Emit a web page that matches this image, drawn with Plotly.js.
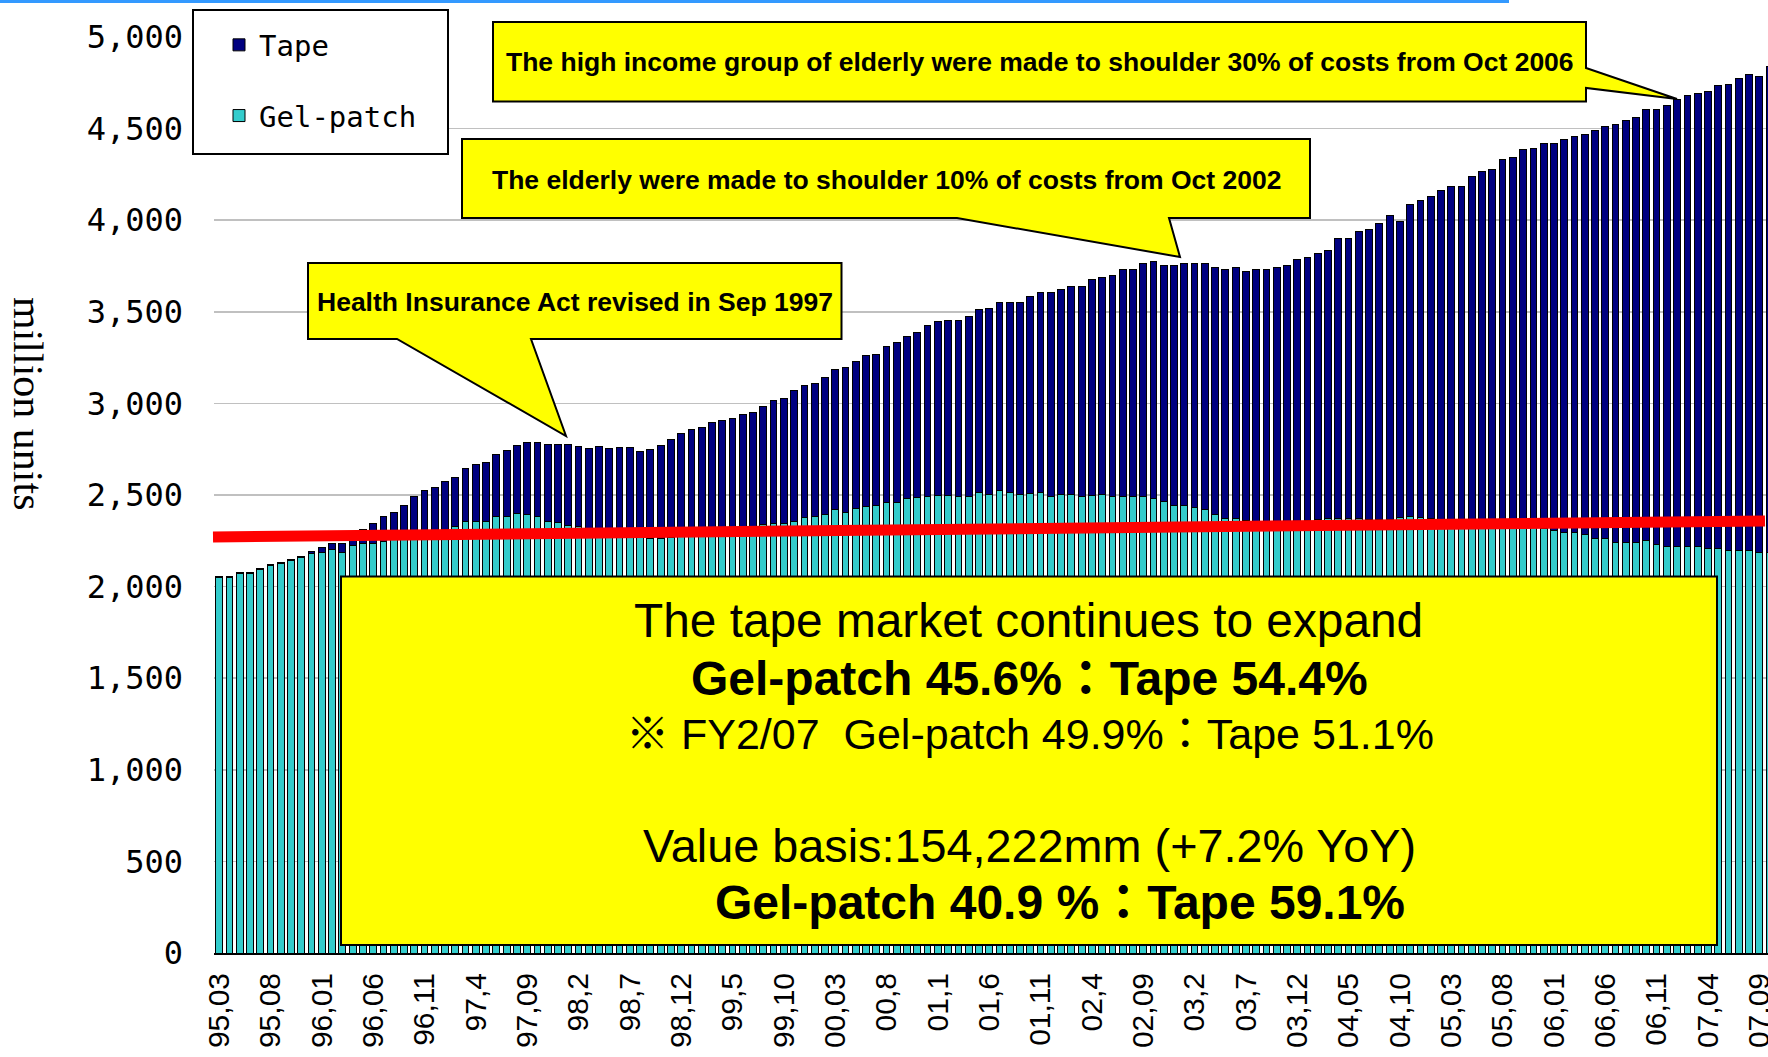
<!DOCTYPE html>
<html><head><meta charset="utf-8">
<script src="https://cdn.plot.ly/plotly-3.0.1.min.js"></script>
<style>html,body{margin:0;padding:0;background:#fff;}#chart{width:1768px;height:1057px;}</style>
</head><body><div id="chart"></div>
<script>
// Gel-patch (lower stack) and Tape (upper stack), million units, monthly from 95/03
const gelPatch = [2049,2049,2071,2071,2093,2113,2126,2144,2159,2182,
2187,2200,2187,2222,2233,2233,2245,2255,2265,2275,
2285,2300,2312,2327,2358,2355,2357,2382,2380,2400,
2391,2380,2357,2348,2334,2327,2312,2300,2292,2285,
2280,2272,2265,2265,2270,2278,2285,2290,2295,2300,
2305,2312,2320,2340,2345,2345,2356,2378,2380,2391,
2420,2407,2428,2438,2440,2460,2460,2480,2484,2490,
2500,2500,2492,2492,2513,2502,2524,2513,2502,2510,
2515,2492,2502,2502,2492,2500,2502,2492,2492,2492,
2492,2482,2462,2441,2441,2430,2422,2391,2373,2373,
2362,2355,2350,2350,2355,2358,2360,2365,2370,2372,
2372,2370,2365,2365,2368,2375,2385,2375,2370,2365,
2360,2355,2350,2345,2340,2335,2330,2325,2320,2315,
2304,2294,2294,2284,2262,2262,2242,2242,2242,2251,
2231,2219,2219,2219,2219,2209,2209,2198,2198,2198,
2188,2185];
const tape = [5,5,5,5,5,5,5,5,5,12,
28,36,49,29,80,109,137,148,180,216,
237,242,261,268,288,312,321,338,362,372,
393,404,416,425,439,436,440,463,460,477,
482,468,486,506,534,558,570,577,600,609,
613,628,631,642,670,681,713,722,730,751,
766,788,800,821,828,850,874,884,902,936,
946,955,963,985,997,1017,1028,1039,1050,1076,
1089,1112,1122,1135,1145,1177,1186,1207,1240,1240,
1271,1290,1290,1311,1322,1333,1341,1352,1359,1370,
1359,1377,1382,1392,1397,1425,1434,1451,1467,1527,
1527,1571,1585,1618,1657,1619,1703,1735,1762,1796,
1823,1828,1888,1922,1938,1997,2013,2062,2074,2101,
2112,2144,2162,2183,2227,2249,2279,2301,2321,2354,
2374,2408,2441,2459,2474,2491,2524,2545,2576,2598,
2595,2653];
const tickLabels = ["95,03","95,08","96,01","96,06","96,11","97,4","97,09","98,2","98,7","98,12",
"99,5","99,10","00,03","00,8","01,1","01,6","01,11","02,4","02,09","03,2",
"03,7","03,12","04,05","04,10","05,03","05,08","06,01","06,06","06,11","07,04","07,09"];
const yTicks = [0,500,1000,1500,2000,2500,3000,3500,4000,4500,5000];

// month categories starting 1995/03
const months = [];
for (let i = 0; i < gelPatch.length; i++) {
  const m = 2 + i; const yr = 1995 + Math.floor(m / 12); const mm = (m % 12) + 1;
  months.push(yr + '/' + String(mm).padStart(2, '0'));
}
const tickVals = months.filter((_, i) => i % 5 === 0).slice(0, tickLabels.length);

const W = 1768, H = 1057, L = 214, T = 37, B = 104, R = 0;
const px = x => (x - L) / (W - L - R);
const py = y => (H - B - y) / (H - T - B);
const path = pts => 'M' + pts.map(p => px(p[0]) + ',' + py(p[1])).join(' L') + ' Z';

const SANS = "Liberation Sans, Arial, 'Noto Sans CJK JP', sans-serif";
const MONO = "DejaVu Sans Mono, Liberation Mono, monospace";

const traces = [
  {type:'bar', name:'Gel-patch', x: months, y: gelPatch, legendgroup:'g', legendrank:2,
   marker:{color:'#33CCCC', line:{color:'#000000', width:1}}},
  {type:'bar', name:'Tape', x: months, y: tape, legendgroup:'t', legendrank:1,
   marker:{color:'#000080', line:{color:'#000000', width:1}}}
];

const shapes = [
  {type:'line', xref:'paper', yref:'paper', x0:px(0), x1:px(1509), y0:py(1.5), y1:py(1.5), line:{color:'#3399FF', width:3}, layer:'above'},
  {type:'line', xref:'paper', yref:'paper', x0:px(213), x1:px(1765), y0:py(537), y1:py(521), line:{color:'#FF0000', width:11}, layer:'above'},
  {type:'rect', xref:'paper', yref:'paper', x0:px(193), x1:px(448), y0:py(10), y1:py(154), fillcolor:'#FFFFFF', line:{color:'#000000', width:2}, layer:'above'},
  {type:'path', xref:'paper', yref:'paper', layer:'above', fillcolor:'#FFFF00', line:{color:'#000000', width:2},
   path: path([[493,22],[1586,22],[1586,68],[1677,99],[1586,88],[1586,101.5],[493,101.5]])},
  {type:'path', xref:'paper', yref:'paper', layer:'above', fillcolor:'#FFFF00', line:{color:'#000000', width:2},
   path: path([[462,139],[1310,139],[1310,218],[1169,218],[1180,257],[957,218],[462,218]])},
  {type:'path', xref:'paper', yref:'paper', layer:'above', fillcolor:'#FFFF00', line:{color:'#000000', width:2},
   path: path([[308,263],[841.5,263],[841.5,339],[531,339],[566,436],[397,339],[308,339]])},
  {type:'rect', xref:'paper', yref:'paper', x0:px(341), x1:px(1717), y0:py(576.5), y1:py(945), fillcolor:'#FFFF00', line:{color:'#000000', width:2}, layer:'above'}
];

const ann = (x, y, text, size, extra) => Object.assign({xref:'paper', yref:'paper', x:px(x), y:py(y), text:text, showarrow:false,
  xanchor:'center', yanchor:'middle', font:{family:SANS, size:size, color:'#000000'}}, extra || {});

const annotations = [
  ann(28, 404, 'million units', 42, {textangle:90, font:{family:"Liberation Serif, 'Times New Roman', serif", size:42, color:'#000'}}),
  ann(1040, 62, '<b>The high income group of elderly were made to shoulder 30% of costs from Oct 2006</b>', 26.5),
  ann(886, 180, '<b>The elderly were made to shoulder 10% of costs from Oct 2002</b>', 26.5),
  ann(575, 302, '<b>Health Insurance Act revised in Sep 1997</b>', 26.5),
  ann(1028, 620, 'The tape market continues to expand', 47.8),
  ann(1029, 678, '<b>Gel-patch 45.6%：Tape 54.4%</b>', 48),
  ann(1030, 734, '※ FY2/07  Gel-patch 49.9%：Tape 51.1%', 43),
  ann(1029, 846, 'Value basis:154,222mm (+7.2% YoY)', 46.8),
  ann(1060, 902, '<b>Gel-patch 40.9 %：Tape 59.1%</b>', 48)
];

const layout = {
  width: W, height: H,
  margin: {l:L, r:R, t:T, b:B, pad:0},
  paper_bgcolor:'#FFFFFF', plot_bgcolor:'#FFFFFF',
  barmode:'stack', bargap:0.34,
  showlegend:true,
  legend:{x:px(219), y:py(19.5), xanchor:'left', yanchor:'top', bgcolor:'rgba(0,0,0,0)', borderwidth:0,
          font:{family:MONO, size:29, color:'#000'}, traceorder:'grouped', tracegroupgap:30, itemwidth:30},
  xaxis:{type:'category', range:[-0.5, 150.85], tickmode:'array', tickvals:tickVals, ticktext:tickLabels,
         tickangle:-90, ticks:'', ticklabelstandoff:6, showgrid:false, showline:true, linecolor:'#000000', linewidth:2,
         tickfont:{family:SANS, size:30, color:'#000'}, zeroline:false, fixedrange:true},
  yaxis:{range:[0,5000], tickmode:'array', tickvals:yTicks, tickformat:',d', ticks:'', ticklabelstandoff:30,
         showgrid:true, gridcolor:'#C0C0C0', gridwidth:1.5, zeroline:false, showline:false,
         tickfont:{family:MONO, size:32, color:'#000'}, fixedrange:true},
  shapes: shapes,
  annotations: annotations
};

Plotly.newPlot('chart', traces, layout, {staticPlot:true, displayModeBar:false});
</script>
</body></html>
